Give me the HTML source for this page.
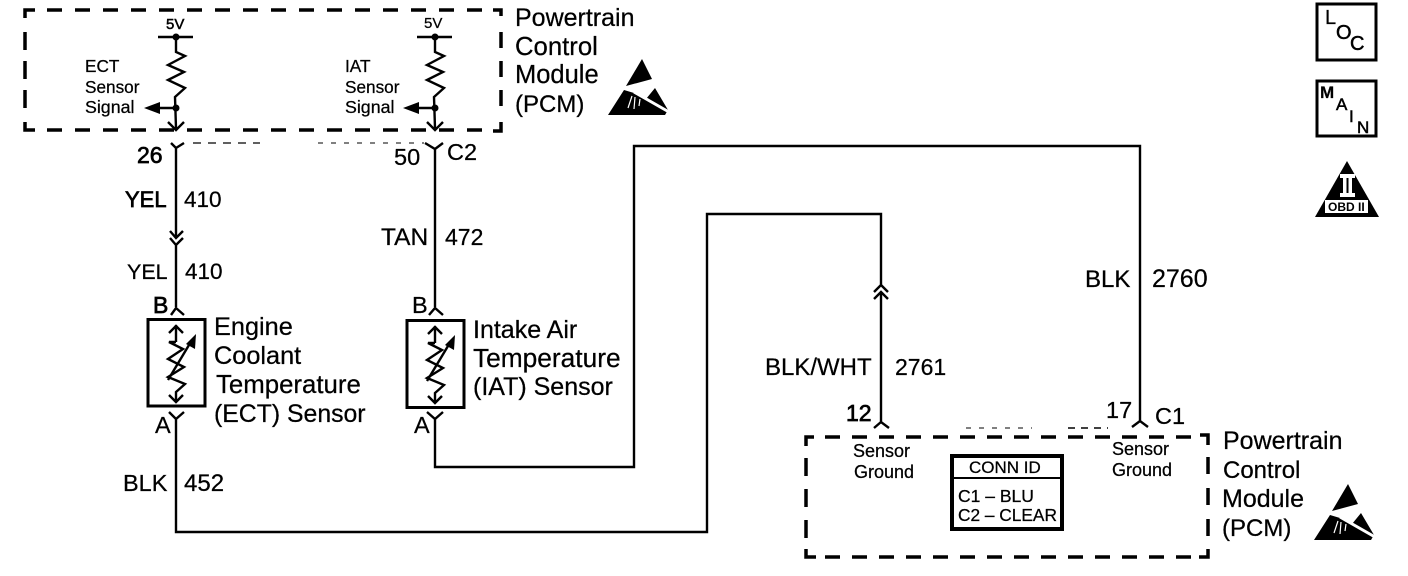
<!DOCTYPE html>
<html>
<head>
<meta charset="utf-8">
<style>
html,body{margin:0;padding:0;background:#fff;}
svg{display:block;}
text{font-family:"Liberation Sans",sans-serif;fill:#000;stroke:#000;stroke-width:.25px;}
.b{font-size:23.5px;}
.bb{font-size:23px;stroke-width:.7px;}
.m{font-size:25px;}
.s{font-size:17.2px;}
.g{font-size:18px;}
.w{fill:none;stroke:#000;stroke-width:2.4;}
.d{fill:none;stroke:#000;stroke-width:3.5;}
</style>
</head>
<body>
<svg width="1408" height="576" viewBox="0 0 1408 576" xmlns="http://www.w3.org/2000/svg">
<defs>
  <g id="esd">
    <path d="M642 59L652 79L626 86Z" fill="#000"/>
    <path d="M608 115L624 90L634 93L646 99L655 88L668 110L665 115Z" fill="#000"/>
    <path d="M628 108L632 96M634 109L635 97M639 106L640 99" stroke="#fff" stroke-width="1.2" fill="none"/>
    <path d="M634 92L669 112" stroke="#fff" stroke-width="3" fill="none"/>
  </g>
  <g id="sens">
    <path class="w" d="M176 342V325M169 333L176 326L183 333"/>
    <path class="w" d="M176 342H169L183 349L168 359L184 367L168 377L185 384L176 392V401M169 395L176 402L183 395"/>
    <path class="w" d="M168 380L192 340"/>
    <path d="M196 334L195 349L186 344Z" fill="#000"/>
  </g>
  <g id="res">
    <path class="w" d="M158 37H193"/>
    <circle cx="176" cy="37" r="3.5" fill="#000"/>
    <path class="w" d="M176 37V52L185 56L168 65L184 72L168 80L185 88L175 97L176 128M168 122L176 130L184 122"/>
    <circle cx="176" cy="108" r="3.5" fill="#000"/>
    <path class="w" d="M176 108H155"/>
    <path d="M144 108L160 102V114Z" fill="#000"/>
  </g>
</defs>

<!-- top dashed box -->
<path class="d" d="M25 18V10H35"/>
<path class="d" stroke-dasharray="15 13" d="M47 10H490"/>
<path class="d" d="M493 10H501V16"/>
<path class="d" stroke-dasharray="18 11" d="M25 32V112"/>
<path class="d" stroke-dasharray="16 13" d="M501 32V112"/>
<path class="d" d="M25 122V130H35"/>
<path class="d" stroke-dasharray="15 13" d="M47 130H490"/>
<path class="d" d="M493 131H501V122"/>

<!-- bottom dashed box -->
<path class="d" d="M806 446V437H814"/>
<path class="d" stroke-dasharray="15 12" d="M825 437H1195"/>
<path class="d" d="M1200 435H1208V445"/>
<path class="d" stroke-dasharray="18 13" d="M806 458V538"/>
<path class="d" stroke-dasharray="17 14" d="M1208 457V537"/>
<path class="d" d="M806 549V557H816"/>
<path class="d" stroke-dasharray="15 12" d="M825 557H1195"/>
<path class="d" d="M1199 557H1208V549"/>

<!-- thin dashed -->
<path fill="none" stroke="#000" stroke-width="1.3" stroke-dasharray="8 7" d="M193 143H260"/>
<path fill="none" stroke="#000" stroke-width="1" stroke-dasharray="5 8" d="M318 143H424"/>
<path fill="none" stroke="#000" stroke-width="1" stroke-dasharray="5 8" d="M966 428H1032"/>
<path fill="none" stroke="#000" stroke-width="1.6" stroke-dasharray="7 6" d="M1068 428H1108"/>

<!-- resistors -->
<use href="#res"/>
<use href="#res" x="259"/>

<!-- wires -->
<path class="w" d="M171 143L176 148L184 143M176 148V238M170 231L176 238L183 231M170 238L176 245L183 238M176 245V307M171 315L176 308L184 315"/>
<path class="w" d="M425 143L435 149L443 143M435 149V307M429 315L435 308L443 315"/>
<path class="w" d="M169 412L176 419L184 412M176 419V532H707V214H881V286M874 292L881 285L888 292M874 299L881 292L888 299M881 292V422M874 428L881 422L889 428"/>
<path class="w" d="M427 412L435 419L443 412M435 419V467H634V146H1140V421M1132 427L1140 421L1148 427"/>

<!-- sensor boxes -->
<rect x="148" y="319.500" width="57" height="86.500" fill="none" stroke="#000" stroke-width="3"/>
<rect x="407" y="320.500" width="57" height="87" fill="none" stroke="#000" stroke-width="3"/>
<use href="#sens"/>
<use href="#sens" x="259" y="1"/>

<!-- top labels -->
<text x="166" y="29" font-size="15" style="stroke-width:.5px">5V</text>
<text x="424" y="28" font-size="15">5V</text>
<text class="s" x="85" y="72">ECT</text>
<text class="s" x="85" y="93">Sensor</text>
<text class="s" x="85" y="113" style="font-size:17.800px">Signal</text>
<text class="s" x="345" y="72">IAT</text>
<text class="s" x="345" y="93">Sensor</text>
<text class="s" x="345" y="113" style="font-size:17.800px">Signal</text>

<text class="m" x="515" y="26">Powertrain</text>
<text class="m" x="515" y="55" style="font-size:25.700px">Control</text>
<text class="m" x="515" y="83" style="font-size:25.500px">Module</text>
<text class="m" x="515" y="112" style="font-size:24px">(PCM)</text>
<use href="#esd"/>

<!-- wire labels -->
<text class="bb" x="137" y="163">26</text>
<text class="b" x="394" y="165">50</text>
<text class="b" x="447" y="160">C2</text>
<text class="bb" x="125" y="207" style="font-size:22px">YEL</text>
<text class="b" x="184" y="207" style="font-size:22.500px">410</text>
<text class="b" x="127" y="279" style="font-size:21.500px">YEL</text>
<text class="b" x="185" y="279" style="font-size:22.500px">410</text>
<text class="b" x="381" y="245" style="font-size:24.500px">TAN</text>
<text class="b" x="445" y="245" style="font-size:23px">472</text>
<text class="bb" x="153" y="313">B</text>
<text class="b" x="412" y="313">B</text>
<text class="b" x="155" y="433">A</text>
<text class="b" x="414" y="433">A</text>
<text class="b" x="123" y="491">BLK</text>
<text class="b" x="184" y="491" style="font-size:24px">452</text>
<text class="b" x="765" y="375" style="font-size:24px">BLK/WHT</text>
<text class="b" x="895" y="375" style="font-size:23px">2761</text>
<text class="b" x="1085" y="287" style="font-size:24px">BLK</text>
<text class="b" x="1152" y="287" style="font-size:25px">2760</text>
<text class="bb" x="846" y="421">12</text>
<text class="b" x="1106" y="418">17</text>
<text class="b" x="1155" y="424">C1</text>

<!-- sensor names -->
<text class="m" x="214" y="335" style="font-size:25.300px">Engine</text>
<text class="m" x="214" y="364" style="font-size:25.300px">Coolant</text>
<text class="m" x="216" y="393" style="font-size:25.800px">Temperature</text>
<text class="m" x="214" y="422" style="font-size:24.800px">(ECT) Sensor</text>
<text class="m" x="473" y="338">Intake Air</text>
<text class="m" x="473" y="367" style="font-size:26.300px">Temperature</text>
<text class="m" x="473" y="395">(IAT) Sensor</text>

<!-- bottom module -->
<text class="g" x="853" y="457">Sensor</text>
<text class="g" x="854" y="478">Ground</text>
<text class="g" x="1112" y="455">Sensor</text>
<text class="g" x="1112" y="476">Ground</text>
<rect x="952" y="456" width="110" height="73" fill="none" stroke="#000" stroke-width="4"/>
<path d="M952 478H1062" stroke="#000" stroke-width="2"/>
<text x="969" y="473" font-size="17">CONN ID</text>
<text x="958" y="502" font-size="17.500">C1 – BLU</text>
<text x="958" y="521" font-size="17.300">C2 – CLEAR</text>
<text class="m" x="1223" y="449">Powertrain</text>
<text class="m" x="1223" y="478" style="font-size:24px">Control</text>
<text class="m" x="1222" y="507">Module</text>
<text class="m" x="1222" y="536" style="font-size:24px">(PCM)</text>
<use href="#esd" x="706" y="425"/>

<!-- right icons -->
<rect x="1317" y="4" width="59" height="56" fill="none" stroke="#000" stroke-width="3"/>
<text x="1325" y="24" font-size="20">L</text>
<text x="1336" y="39" font-size="20" style="stroke-width:.5px">O</text>
<text x="1350" y="50" font-size="20" style="stroke-width:.5px">C</text>
<rect x="1317" y="81" width="59" height="55" fill="none" stroke="#000" stroke-width="3"/>
<text x="1320" y="98" font-size="17" font-weight="bold">M</text>
<text x="1336" y="110" font-size="17" style="stroke-width:.5px">A</text>
<text x="1349" y="122" font-size="17" style="stroke-width:.5px">I</text>
<text x="1357" y="133" font-size="17" style="stroke-width:.5px">N</text>
<path d="M1347 161L1379 217H1315Z" fill="#000"/>
<rect x="1325" y="200" width="43" height="13" fill="#fff"/>
<path d="M1340 174H1355V178H1352V193H1355V197H1340V193H1343V178H1340Z" fill="#fff"/>
<path d="M1346.500 178H1348.500V193H1346.500Z" fill="#000"/>
<text x="1328" y="211" font-size="12" font-weight="bold" style="stroke-width:0">OBD II</text>
</svg>
</body>
</html>
